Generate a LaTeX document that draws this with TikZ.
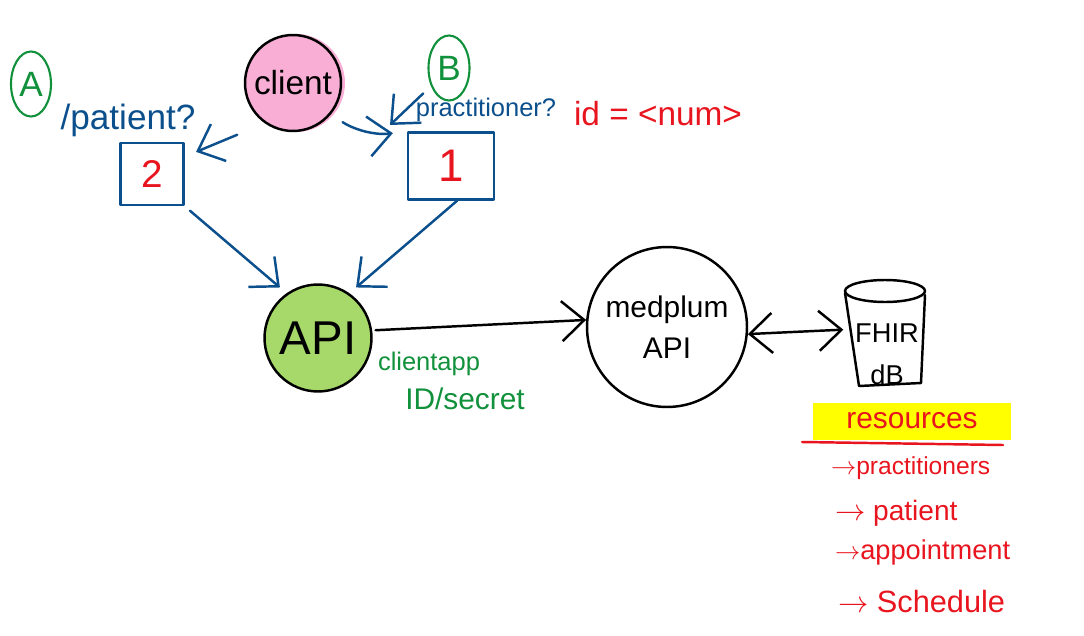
\documentclass[tikz,border=0pt]{standalone}
\usepackage{fontspec}
\setmainfont{Liberation Sans}
\usetikzlibrary{arrows.meta, shapes.geometric}
\definecolor{penblue}{HTML}{0B4F8C}
\definecolor{penred}{HTML}{E8141E}
\definecolor{pengreen}{HTML}{12913C}
\definecolor{pinkfill}{HTML}{F9AED6}
\definecolor{apifill}{HTML}{A6D86A}
\definecolor{marker}{HTML}{FFFF00}
\begin{document}
\begin{tikzpicture}[x=0.02cm, y=-0.02cm, every node/.style={align=center, inner sep=1pt}, >={Straight Barb[length=4.5mm, width=8mm]}, line width=1.4pt, line cap=round, line join=round]
\useasboundingbox (0,0) rectangle (1084,635);

\node[draw=pengreen, ellipse, line width=1.2pt, minimum width=0.8cm, minimum height=1.3cm, text=pengreen, font=\fontsize{20}{22}\selectfont] at (31,84) (markA) {A};
\node[draw=pengreen, ellipse, line width=1.2pt, minimum width=0.82cm, minimum height=1.3cm, text=pengreen, font=\fontsize{20}{22}\selectfont] at (449,68) (markB) {B};
\node[fill=pinkfill, circle, minimum size=1.96cm] at (296,83) (clientblob) {};
\node[draw, circle, fill=pinkfill, minimum size=1.92cm, font=\fontsize{19}{21}\selectfont] at (293,83) (client) {client};
\node[draw=penblue, minimum width=1.26cm, minimum height=1.24cm, text=penred, font=\fontsize{22}{24}\selectfont] at (152,174) (box2) {2};
\node[draw=penblue, minimum width=1.72cm, minimum height=1.34cm, text=penred, font=\fontsize{26}{28}\selectfont] at (451,166) (box1) {1};
\node[text=penblue, font=\fontsize{20}{22}\selectfont] at (128,120) (patient) {/patient?};
\node[text=penblue, font=\fontsize{14.5}{16}\selectfont] at (486,110) (practitioner) {practitioner?};
\node[text=penred, font=\fontsize{19}{21}\selectfont] at (658,114) (idnum) {id = <num>};
\coordinate (btip) at (390,125);

\node[draw, circle, fill=apifill, minimum size=2.14cm, font=\fontsize{27}{29}\selectfont] at (318,338) (api) {API};
\node[text=pengreen, font=\fontsize{14.5}{16}\selectfont] at (429,364) (credapp) {clientapp};
\node[text=pengreen, font=\fontsize{17}{19}\selectfont] at (465,399) (credid) {ID/secret};
\node[draw, circle, minimum size=3.2cm, font=\fontsize{17}{23}\selectfont] at (667,327) (medplum) {medplum\\API};

% FHIR store
\draw (885,291) ellipse [x radius=0.8cm, y radius=0.22cm];
\draw (845,293) -- (859,386) -- (921,383) -- (925,295);
\node[minimum width=1.62cm, minimum height=1.9cm] at (885,337) (fhir) {};
\node[font=\fontsize{15.5}{24}\selectfont] at (887,354) (fhirtext) {FHIR\\dB};

\node[fill=marker, minimum width=3.98cm, minimum height=0.74cm, text=penred, font=\fontsize{17}{19}\selectfont] at (912,421) (resources) {resources};
\draw[penred] (802,442) -- (1003,445);
\node[anchor=west, text=penred, font=\fontsize{14}{16}\selectfont] at (828,468) (res1) {$\rightarrow$practitioners};
\node[anchor=west, text=penred, font=\fontsize{16}{18}\selectfont] at (832,513) (res2) {$\rightarrow$ patient};
\node[anchor=west, text=penred, font=\fontsize{15.5}{17}\selectfont] at (832,552) (res3) {$\rightarrow$appointment};
\node[anchor=west, text=penred, font=\fontsize{17.5}{19}\selectfont] at (835,602) (res4) {$\rightarrow$ Schedule};

\draw[->, penblue, shorten <=17pt, shorten >=7pt] (client.235) -- (box2.28);
\draw[->, penblue, shorten <=8pt, shorten >=8pt] (client.-40) to[bend right=20] (box1.north west);
\draw[->, penblue, shorten <=6pt] (markB.225) -- (btip);
\draw[->, penblue, shorten <=4pt, shorten >=5pt] (box2.south east) -- (api.125);
\draw[->, penblue, shorten >=5pt] (box1.-80) -- (api.55);
\draw[->, shorten <=2pt] (api.8) -- (medplum.175);
\draw[<->] (medplum.-5) -- (fhir.170);
\end{tikzpicture}
\end{document}
